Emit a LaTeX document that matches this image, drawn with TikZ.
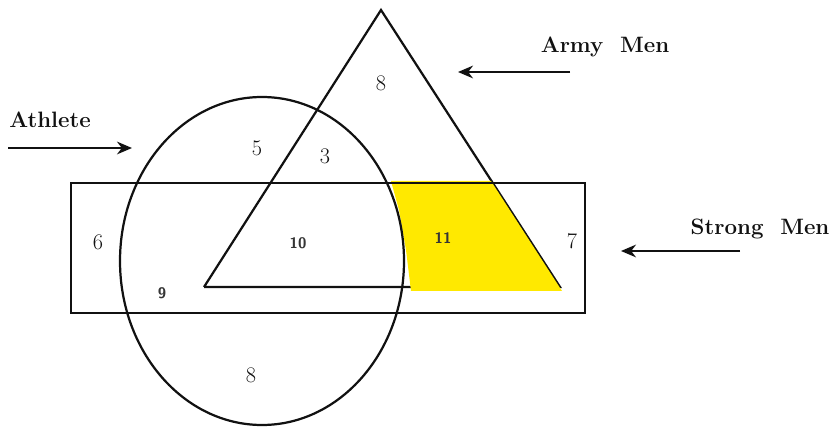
\documentclass[tikz,border=0pt]{standalone}
\usetikzlibrary{arrows.meta}
\definecolor{vennink}{HTML}{111111}
\definecolor{vennyellow}{HTML}{FFE900}
\tikzset{
  setline/.style={draw=vennink, line width=1.9pt},
  setname/.style={font=\fontsize{19}{21}\selectfont\bfseries, text=vennink, inner sep=0pt},
  numserif/.style={font=\fontsize{19}{21}\selectfont, text=vennink, inner sep=0pt},
  numsans/.style={font=\fontsize{13}{15}\selectfont\sffamily\bfseries, text=vennink!85, inner sep=0pt},
  pointer/.style={-{Stealth[length=4.5mm,width=3.8mm]}, draw=vennink, line width=1.9pt}
}
\begin{document}
\begin{tikzpicture}[x=0.03cm,y=-0.03cm]
  \useasboundingbox (0,0) rectangle (831,427);
  % the three sets
  \coordinate (apex) at (381,10);
  \coordinate (baseL) at (204,287);
  \coordinate (baseR) at (560,287);
  \draw[setline, line join=miter] (baseL) -- (apex) -- (baseR) -- (baseL);
  \fill[vennyellow] (391,181) -- (491,181) -- (562,291)
    -- (411,291) -- (406,250) -- (399,210) -- cycle;
  \draw[setline] (262,261) ellipse (142 and 164);
  \draw[setline] (71,183) rectangle (585,313);

  % names and pointers
  \node[setname] (athlete) at (50,120) {Athlete};
  \node[setname] (army) at (605,47) {Army\ \ Men};
  \node[setname] (strong) at (760,229) {Strong\ \ Men};
  \coordinate (athleteS) at (8,148);
  \coordinate (athleteE) at (132,148);
  \coordinate (armyS) at (570,72);
  \coordinate (armyE) at (458,72);
  \coordinate (strongS) at (740,251);
  \coordinate (strongE) at (621,251);
  \draw[pointer] (athleteS) -- (athleteE);
  \draw[pointer] (armyS) -- (armyE);
  \draw[pointer] (strongS) -- (strongE);

  % region counts
  \node[numserif] (nArmy) at (381,83) {8};
  \node[numserif] (nAth) at (257,148) {5};
  \node[numserif] (nAthArmy) at (325,156) {3};
  \node[numserif] (nStrAth) at (98,242) {6};
  \node[numsans] (nAll) at (298,243) {10};
  \node[numsans] (nStrArmy) at (443,238) {11};
  \node[numserif] (nStr) at (572,241) {7};
  \node[numsans] (nStrAthOnly) at (162,293) {9};
  \node[numserif] (nAthLow) at (251,375) {8};
\end{tikzpicture}
\end{document}
